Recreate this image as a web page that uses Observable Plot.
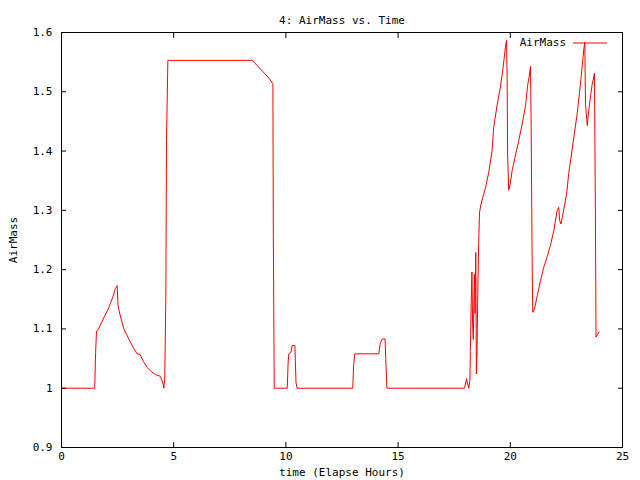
<!DOCTYPE html>
<html>
<head>
<meta charset="utf-8">
<script src="https://cdn.jsdelivr.net/npm/d3@7"></script>
<script src="https://cdn.jsdelivr.net/npm/@observablehq/plot@0.6"></script>
<style>
  html, body { margin: 0; padding: 0; background: #fff; }
  #chart svg { display: block; }
</style>
</head>
<body>
<div id="chart"></div>
<script>
const title = "4: AirMass vs. Time";
const xLabel = "time (Elapse Hours)";
const yLabel = "AirMass";
const seriesName = "AirMass";
const xTicks = [0, 5, 10, 15, 20, 25];
const yTicks = [0.9, 1.0, 1.1, 1.2, 1.3, 1.4, 1.5, 1.6];

const time = [
  0, 1.48, 1.52, 1.56, 1.65, 1.9, 2.1, 2.3, 2.4, 2.48, 2.52, 2.6, 2.78, 3.0, 3.22, 3.37, 3.5, 3.65, 3.82, 4.0, 4.19, 4.41, 4.53, 4.56, 4.6, 4.65, 4.68, 4.74,
  8.5, 8.9, 9.2, 9.42, 9.44, 9.48,
  10.06, 10.1, 10.13, 10.22, 10.28, 10.4, 10.45, 10.5,
  12.98, 13.02, 13.07, 14.14, 14.2, 14.29, 14.42, 14.45, 14.5,
  17.96, 18.05, 18.15, 18.2, 18.22, 18.26, 18.29, 18.32, 18.35, 18.4, 18.43, 18.46, 18.49, 18.52, 18.55, 18.59, 18.63, 18.7, 18.9, 19.04, 19.19, 19.26, 19.41, 19.56, 19.68, 19.78, 19.83,
  19.86, 19.88, 19.93, 20.0, 20.08, 20.23, 20.38, 20.53, 20.68, 20.78, 20.84, 20.9,
  20.93, 20.97, 21.0, 21.08, 21.2, 21.35, 21.49, 21.64, 21.79, 21.94, 22.09, 22.16, 22.2, 22.26, 22.36, 22.46, 22.53, 22.6, 22.71, 22.83, 22.98, 23.08, 23.2, 23.27, 23.32,
  23.35, 23.43, 23.47, 23.57, 23.65, 23.72, 23.75, 23.79, 23.82, 23.87, 23.96
];
const airmass = [
  1.0, 1.0, 1.06, 1.096, 1.1, 1.12, 1.135, 1.155, 1.168, 1.173, 1.139, 1.125, 1.1, 1.083, 1.067, 1.058, 1.057, 1.045, 1.035, 1.028, 1.023, 1.02, 1.007, 1.0, 1.016, 1.155, 1.42, 1.553,
  1.553, 1.537, 1.525, 1.514, 1.258, 1.0,
  1.0, 1.044, 1.058, 1.06, 1.072, 1.072, 1.01, 1.0,
  1.0, 1.04, 1.058, 1.058, 1.075, 1.083, 1.083, 1.05, 1.0,
  1.0, 1.016, 1.0, 1.013, 1.062, 1.149, 1.196, 1.109, 1.082, 1.192, 1.126, 1.229, 1.024, 1.069, 1.156, 1.244, 1.297, 1.311, 1.339, 1.364, 1.401, 1.44, 1.477, 1.508, 1.541, 1.575, 1.587,
  1.522, 1.395, 1.334, 1.345, 1.367, 1.393, 1.418, 1.446, 1.477, 1.513, 1.525, 1.543,
  1.44, 1.232, 1.128, 1.134, 1.156, 1.182, 1.204, 1.221, 1.241, 1.266, 1.3, 1.305, 1.283, 1.277, 1.297, 1.317, 1.334, 1.362, 1.39, 1.423, 1.463, 1.497, 1.541, 1.57, 1.584,
  1.48, 1.443, 1.46, 1.491, 1.513, 1.525, 1.531, 1.311, 1.086, 1.089, 1.095
];

const data = time.map((t, i) => ({t, v: airmass[i]}));
const font = "'DejaVu Sans Mono', monospace";

const chart = Plot.plot({
  width: 640,
  height: 480,
  marginLeft: 61,
  marginRight: 18,
  marginTop: 32,
  marginBottom: 33,
  style: {fontFamily: font, fontSize: "11px", color: "#000", background: "#fff"},
  x: {domain: [0, 25]},
  y: {domain: [0.9, 1.6]},
  marks: [
    Plot.line(data, {x: "t", y: "v", stroke: "#ff0000", strokeWidth: 1}),
    Plot.frame({stroke: "#000"}),
    Plot.axisX({anchor: "bottom", ticks: xTicks, tickSize: -5, tickPadding: 10, tickFormat: d3.format("~g"),
      label: xLabel, labelAnchor: "center", labelArrow: "none", labelOffset: 28}),
    Plot.axisX({anchor: "top", ticks: xTicks, tickSize: -5, tickFormat: () => "", label: null}),
    Plot.axisY({anchor: "left", ticks: yTicks, tickSize: -5, tickPadding: 14, tickFormat: d3.format("~g"),
      label: yLabel, labelAnchor: "center", labelArrow: "none", labelOffset: 52}),
    Plot.axisY({anchor: "right", ticks: yTicks, tickSize: -5, tickFormat: () => "", label: null}),
    Plot.text([title], {frameAnchor: "top", dy: -16, fontSize: 11})
  ]
});

// legend (top-right, inside the frame)
const svg = d3.select(chart);
const lg = svg.append("g").attr("font-family", font).attr("font-size", 11);
lg.append("text").attr("x", 566).attr("y", 43).attr("text-anchor", "end").attr("dominant-baseline", "middle").text(seriesName);
lg.append("line").attr("x1", 573).attr("x2", 607).attr("y1", 43).attr("y2", 43).attr("stroke", "#ff0000").attr("stroke-width", 1);

document.getElementById("chart").appendChild(chart);
</script>
</body>
</html>
